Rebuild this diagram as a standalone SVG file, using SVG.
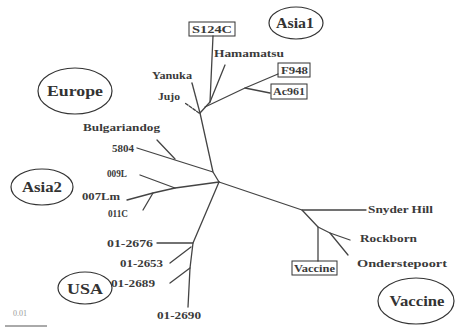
<svg xmlns="http://www.w3.org/2000/svg" width="455" height="331" viewBox="0 0 455 331">
<style>
.e{fill:none;stroke:#333;stroke-width:1.2}
.b{fill:none;stroke:#333;stroke-width:1}
.br{fill:none;stroke:#444;stroke-width:1.3;stroke-linecap:round;stroke-linejoin:round}
.t{font-weight:bold;font-size:10px;fill:#3a3a3a}
.g{font-weight:bold;font-size:15px;fill:#333;text-anchor:middle}
</style>
<rect width="455" height="331" fill="#fff"/>
<g id="connectors">
<polyline class="br" points="219,182 213,172 200,113"/>
<polyline class="br" points="200,113 192,83"/>
<polyline class="br" points="199,113 185,103" stroke-dasharray="3,1.5"/>
<polyline class="br" points="200,113 210,102 213,36"/>
<polyline class="br" points="210,102 225,65"/>
<polyline class="br" points="205,107 245,88 278,74"/>
<polyline class="br" points="245,88 270,93"/>
<polyline class="br" points="213,172 137,148"/>
<polyline class="br" points="175,159 157,140"/>
<polyline class="br" points="219,182 175,188 140,175"/>
<polyline class="br" points="175,188 153,193 127,200"/>
<polyline class="br" points="153,193 143,210"/>
<polyline class="br" points="219,182 193,243 190,268 188,307"/>
<polyline class="br" points="193,243 157,243"/>
<polyline class="br" points="191,247 170,263"/>
<polyline class="br" points="190,268 170,283"/>
<polyline class="br" points="219,182 302,210 318,227 330,233 350,240"/>
<polyline class="br" points="330,233 348,255"/>
<polyline class="br" points="302,210 366,210"/>
<polyline class="br" points="318,227 318,261"/>
<line x1="5" y1="326" x2="47" y2="326" stroke="#555" stroke-width="1"/>
</g>
<g font-family="Liberation Serif, serif">
<g id="europe"><ellipse class="e" cx="75" cy="91" rx="37" ry="23"/><text class="g" x="75" y="96" textLength="56" lengthAdjust="spacingAndGlyphs">Europe</text></g>
<g id="asia1"><ellipse class="e" cx="296" cy="23" rx="27" ry="16"/><text class="g" x="295" y="28" textLength="38" lengthAdjust="spacingAndGlyphs">Asia1</text></g>
<g id="asia2"><ellipse class="e" cx="42" cy="187" rx="31" ry="18"/><text class="g" x="42" y="192" textLength="40" lengthAdjust="spacingAndGlyphs">Asia2</text></g>
<g id="usa"><ellipse class="e" cx="85" cy="288" rx="27" ry="16"/><text class="g" x="85" y="294" textLength="36" lengthAdjust="spacingAndGlyphs">USA</text></g>
<g id="vaccine-group"><ellipse class="e" cx="416" cy="301" rx="38" ry="23"/><text class="g" x="417" y="306" textLength="55" lengthAdjust="spacingAndGlyphs">Vaccine</text></g>
<g id="s124c"><rect class="b" x="189" y="22" width="46" height="14"/><text class="t" x="192" y="33" textLength="40" lengthAdjust="spacingAndGlyphs">S124C</text></g>
<g id="hamamatsu"><text class="t" x="214" y="57" textLength="70" lengthAdjust="spacingAndGlyphs">Hamamatsu</text></g>
<g id="f948"><rect class="b" x="278" y="63" width="32" height="14"/><text class="t" x="281" y="74" textLength="27" lengthAdjust="spacingAndGlyphs">F948</text></g>
<g id="ac961"><rect class="b" x="271" y="84" width="36" height="15"/><text class="t" x="273" y="95" textLength="32" lengthAdjust="spacingAndGlyphs">Ac961</text></g>
<g id="yanuka"><text class="t" x="152" y="79" textLength="40" lengthAdjust="spacingAndGlyphs">Yanuka</text></g>
<g id="jujo"><text class="t" x="158" y="100" textLength="22" lengthAdjust="spacingAndGlyphs">Jujo</text></g>
<g id="bulgariandog"><text class="t" x="83" y="131" textLength="77" lengthAdjust="spacingAndGlyphs">Bulgariandog</text></g>
<g id="n5804"><text class="t" x="112" y="152" textLength="22" lengthAdjust="spacingAndGlyphs">5804</text></g>
<g id="n009l"><text class="t" x="107" y="177" textLength="20" lengthAdjust="spacingAndGlyphs">009L</text></g>
<g id="n007lm"><text class="t" x="82" y="200" textLength="38" lengthAdjust="spacingAndGlyphs">007Lm</text></g>
<g id="n011c"><text class="t" x="108" y="217" textLength="20" lengthAdjust="spacingAndGlyphs">011C</text></g>
<g id="n012676"><text class="t" x="107" y="247" textLength="46" lengthAdjust="spacingAndGlyphs">01-2676</text></g>
<g id="n012653"><text class="t" x="120" y="267" textLength="43" lengthAdjust="spacingAndGlyphs">01-2653</text></g>
<g id="n012689"><text class="t" x="111" y="287" textLength="44" lengthAdjust="spacingAndGlyphs">01-2689</text></g>
<g id="n012690"><text class="t" x="157" y="319" textLength="44" lengthAdjust="spacingAndGlyphs">01-2690</text></g>
<g id="snyderhill"><text class="t" x="368" y="213" textLength="65" lengthAdjust="spacingAndGlyphs">Snyder Hill</text></g>
<g id="rockborn"><text class="t" x="360" y="242" textLength="57" lengthAdjust="spacingAndGlyphs">Rockborn</text></g>
<g id="onderstepoort"><text class="t" x="357" y="267" textLength="90" lengthAdjust="spacingAndGlyphs">Onderstepoort</text></g>
<g id="vaccine"><rect class="b" x="292" y="261" width="45" height="14"/><text class="t" x="294" y="272" textLength="41" lengthAdjust="spacingAndGlyphs">Vaccine</text></g>
<g id="scale"><text x="13" y="316" font-size="8" fill="#999" textLength="14" lengthAdjust="spacingAndGlyphs">0.01</text></g>
</g>
</svg>
